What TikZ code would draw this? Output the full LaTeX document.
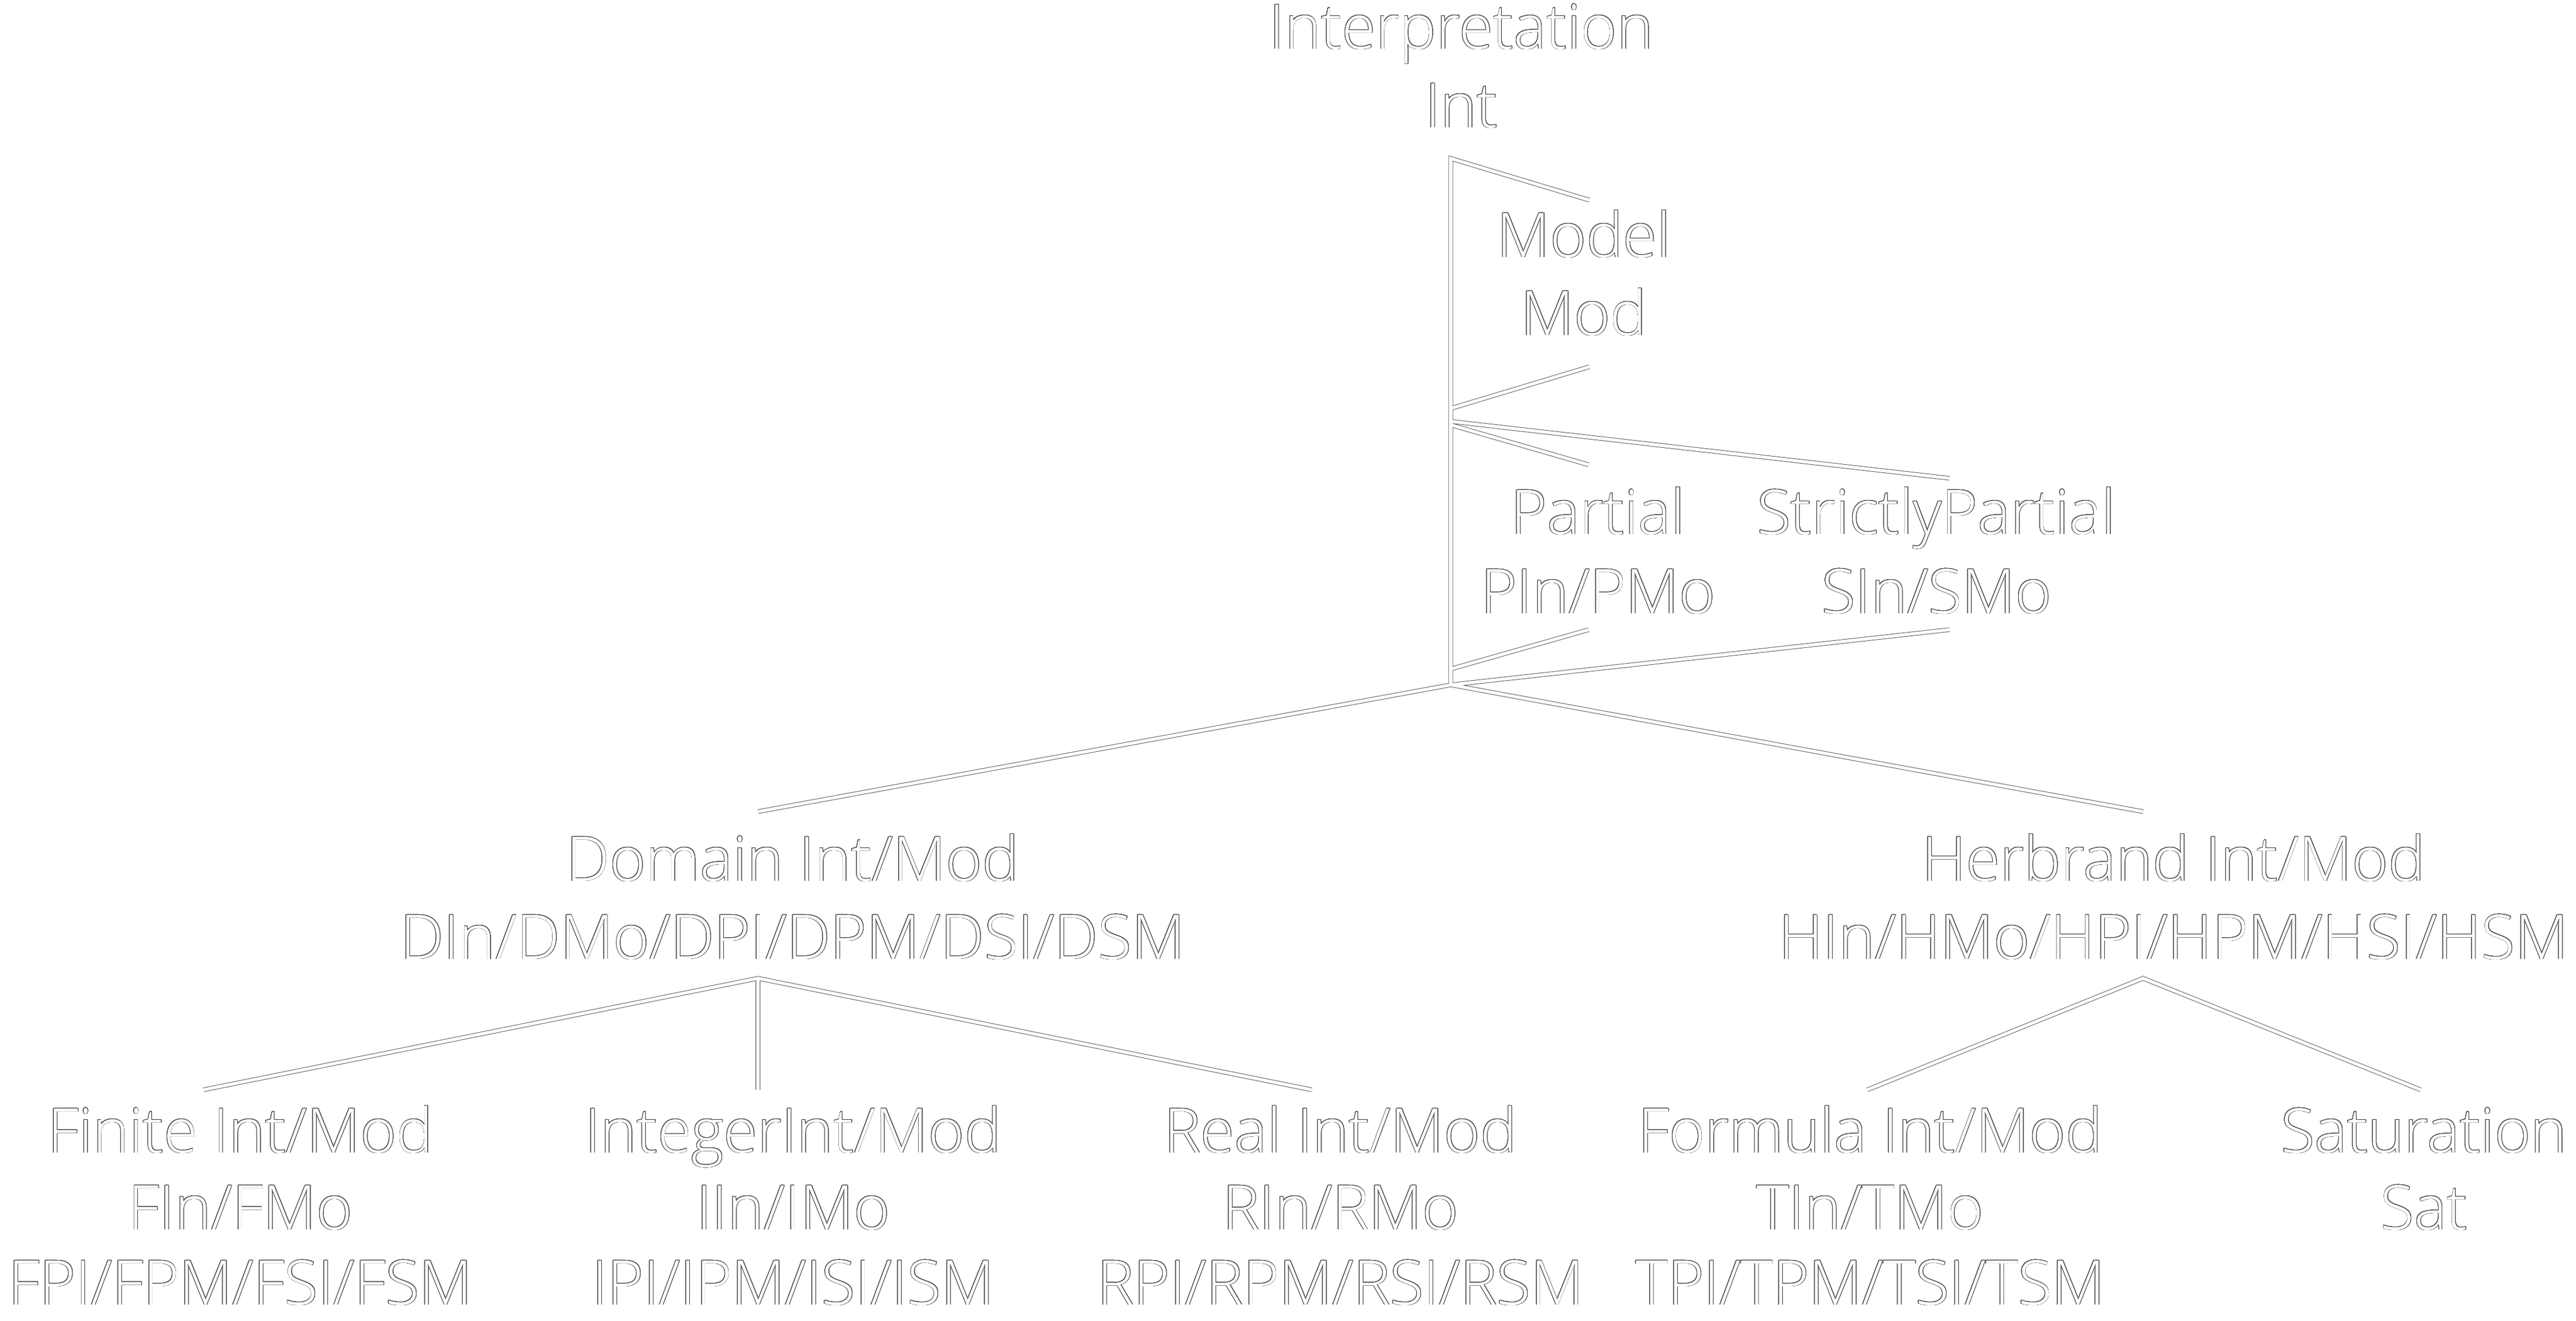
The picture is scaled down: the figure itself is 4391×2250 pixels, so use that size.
\documentclass[tikz,border=0pt]{standalone}
\usepackage{fontspec}
\IfFontExistsTF{Open Sans Light}
  {\setmainfont{Open Sans Light}}
  {\setmainfont{Open Sans}[FakeStretch=0.99]}
\usepackage[copies]{contour}
\contourlength{0.25pt}
\contournumber{24}
\newcommand\mklabel[3]{\node[lbl] (#1) at (#2) {\contour{black!70}{#3}};}
\newcommand\alledges[1]{%
  \draw[#1] (mt) -- (vtop) -- (J);
  \draw[#1] (mb) -- (mbv);
  \draw[#1] (pv) -- (pt);
  \draw[#1] (spv) -- (spt);
  \draw[#1] (pb) -- (pbv);
  \draw[#1] (spb) -- (J);
  \draw[#1] (dt) -- (J) -- (ht);
  \draw[#1] (fe) -- (dj) -- (re);
  \draw[#1] (dj) -- (ie);
  \draw[#1] (te) -- (hj) -- (se);
}
\begin{document}
\begin{tikzpicture}[x=0.01cm,y=-0.01cm,
  lbl/.style={anchor=base, inner sep=0pt, text=white, font=\fontsize{29.9}{36}\selectfont},
  edgeout/.style={draw=black!70, line width=2.1pt, line join=miter, line cap=butt},
  edgein/.style={draw=white, line width=1.6pt, line join=miter, line cap=butt}]
\fill[white] (0,0) rectangle (4391,2250);
\useasboundingbox (0,0) rectangle (4391,2250);
% junction and end points
\coordinate (vtop) at (2473,270);
\coordinate (mt) at (2709,341);
\coordinate (mb) at (2709,625);
\coordinate (mbv) at (2473,696);
\coordinate (pv) at (2473,724);
\coordinate (pt) at (2708,792);
\coordinate (spv) at (2473,718);
\coordinate (spt) at (3323,815);
\coordinate (pb) at (2708,1073);
\coordinate (pbv) at (2473,1140);
\coordinate (spb) at (3323,1073);
\coordinate (J) at (2473,1167);
\coordinate (dt) at (1292,1383);
\coordinate (ht) at (3653,1383);
\coordinate (dj) at (1292,1667);
\coordinate (hj) at (3653,1667);
\coordinate (fe) at (347,1857);
\coordinate (ie) at (1292,1857);
\coordinate (re) at (2236,1857);
\coordinate (te) at (3183,1857);
\coordinate (se) at (4126,1857);
\alledges{edgeout}
\alledges{edgein}
% labels
\mklabel{int1}{2491,83}{Interpretation}
\mklabel{int2}{2491,217}{Int}
\mklabel{mod1}{2700,438}{Model}
\mklabel{mod2}{2700,571}{Mod}
\mklabel{par1}{2724,910}{Partial}
\mklabel{par2}{2724,1045}{PIn/PMo}
\mklabel{sp1}{3301,910}{StrictlyPartial}
\mklabel{sp2}{3301,1045}{SIn/SMo}
\mklabel{dom1}{1351,1501}{Domain Int/Mod}
\mklabel{dom2}{1351,1634}{DIn/DMo/DPI/DPM/DSI/DSM}
\mklabel{her1}{3705,1501}{Herbrand Int/Mod}
\mklabel{her2}{3705,1634}{HIn/HMo/HPI/HPM/HSI/HSM}
\mklabel{fin1}{410,1964}{Finite Int/Mod}
\mklabel{fin2}{410,2095}{FIn/FMo}
\mklabel{fin3}{410,2223}{FPI/FPM/FSI/FSM}
\mklabel{ing1}{1352,1964}{IntegerInt/Mod}
\mklabel{ing2}{1352,2095}{IIn/IMo}
\mklabel{ing3}{1352,2223}{IPI/IPM/ISI/ISM}
\mklabel{rea1}{2285,1964}{Real Int/Mod}
\mklabel{rea2}{2285,2095}{RIn/RMo}
\mklabel{rea3}{2285,2223}{RPI/RPM/RSI/RSM}
\mklabel{for1}{3188,1964}{Formula Int/Mod}
\mklabel{for2}{3188,2095}{TIn/TMo}
\mklabel{for3}{3188,2223}{TPI/TPM/TSI/TSM}
\mklabel{sat1}{4132,1964}{Saturation}
\mklabel{sat2}{4132,2095}{Sat}
\end{tikzpicture}
\end{document}
